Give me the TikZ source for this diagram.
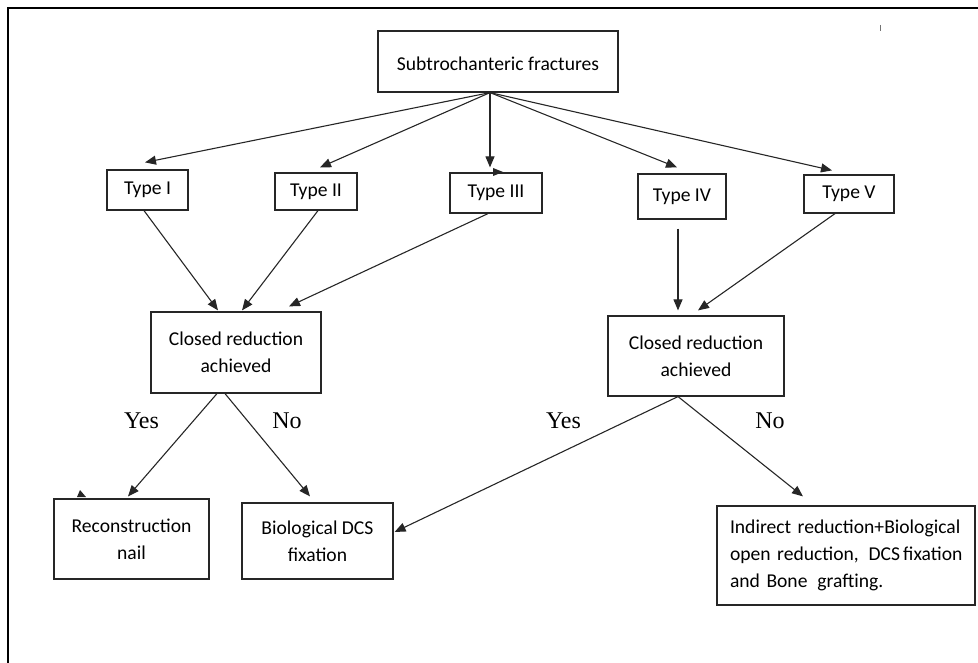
\documentclass[tikz,border=0pt]{standalone}
\usepackage{fontspec}
\setmainfont{Carlito}
\newfontfamily\yesfont{Liberation Serif}
\usetikzlibrary{arrows.meta}
\begin{document}
\begin{tikzpicture}[x=1pt,y=-1pt,
  box/.style={draw=black!85,line width=1.2pt,align=center,inner sep=0pt,font=\fontsize{19.6}{27}\selectfont},
  arr/.style={draw=black!85,line width=1.1pt,-{Triangle[length=11pt,width=9pt]}},
  lab/.style={font=\yesfont\fontsize{24}{24}\selectfont,anchor=base,inner sep=0pt},
  frame/.style={draw=black,line width=2.6pt}]
\useasboundingbox (0,0) rectangle (978,663);
% page frame (top and left edges)
\draw[frame] (8,663) -- (8,8) -- (978,8);
\draw[black!55,line width=0.8pt] (880,25) -- (880,31);

% nodes
\node[box,minimum width=240pt,minimum height=61pt,text height=19pt,text depth=0pt] (top) at (498,61.5) {Subtrochanteric fractures};
\node[box,minimum width=81pt,minimum height=40pt] (t1) at (147.5,190) {Type I};
\node[box,minimum width=82pt,minimum height=37pt] (t2) at (316,191.5) {Type II};
\node[box,minimum width=92pt,minimum height=40pt] (t3) at (496,193) {Type III};
\node[box,minimum width=88pt,minimum height=45pt] (t4) at (682,196.5) {Type IV};
\node[box,minimum width=90pt,minimum height=38pt] (t5) at (849,194) {Type V};
\node[box,minimum width=170pt,minimum height=81pt] (cr1) at (236,352.5) {Closed reduction\\achieved};
\node[box,minimum width=176pt,minimum height=80pt] (cr2) at (696,356) {Closed reduction\\achieved};
\node[box,minimum width=155pt,minimum height=80pt] (rn) at (131.5,539) {Reconstruction\\nail};
\node[box,minimum width=151pt,minimum height=76pt] (bd) at (317.5,541) {Biological DCS\\fixation};
\node[box,align=left,text width=232pt,inner xsep=13pt,minimum height=99pt] (ir) at (846,555.5)
  {\mbox{Indirect reduction+Biological}\\\mbox{open reduction,\enspace DCS\kern3pt fixation}\\\mbox{and Bone\enspace grafting.}};

% labels
\node[lab] (y1) at (141.5,428) {Yes};
\node[lab] (n1) at (287,428) {No};
\node[lab] (y2) at (563.5,428) {Yes};
\node[lab] (n2) at (770,428) {No};

% top to types
\draw[arr] ([xshift=-8pt]top.south) -- ([xshift=-2.5pt,yshift=7pt]t1.north);
\draw[arr] ([xshift=-8pt]top.south) -- ([xshift=4pt,yshift=5pt]t2.north);
\draw[arr] ([xshift=-8pt]top.south) -- ([xshift=-6pt,yshift=5pt]t3.north);
\draw[arr] ([xshift=-8pt]top.south) -- ([xshift=-5pt,yshift=6pt]t4.north);
\draw[arr] ([xshift=-8pt]top.south) -- ([xshift=-17pt,yshift=4pt]t5.north);
\fill[black!85] (493,168) -- (503,172) -- (493,176) -- cycle;

% types to closed reduction
\draw[arr] ([xshift=-3.5pt]t1.south) -- ([xshift=-18pt,yshift=1pt]cr1.north);
\draw[arr] ([xshift=2pt]t2.south) -- ([xshift=6pt,yshift=1pt]cr1.north);
\draw[arr] ([xshift=-8pt]t3.south) -- ([xshift=53pt,yshift=5pt]cr1.north);
\draw[arr] ([xshift=-4pt,yshift=-9pt]t4.south) -- ([xshift=-18pt,yshift=5pt]cr2.north);
\draw[arr] ([xshift=-14pt]t5.south) -- ([xshift=2pt,yshift=5pt]cr2.north);

% outcomes
\draw[arr] ([xshift=-19pt]cr1.south) -- ([xshift=-3.5pt,yshift=2pt]rn.north);
\draw[arr] ([xshift=-11pt]cr1.south) -- ([xshift=-7.5pt,yshift=6pt]bd.north);
\fill[black!85] (77,497) -- (86,497) -- (80,490) -- cycle;
\draw[arr] ([xshift=-18pt]cr2.south) -- ([xshift=1pt,yshift=9pt]bd.east);
\draw[arr] ([xshift=-18pt]cr2.south) -- ([xshift=-43pt,yshift=9pt]ir.north);
\end{tikzpicture}
\end{document}
